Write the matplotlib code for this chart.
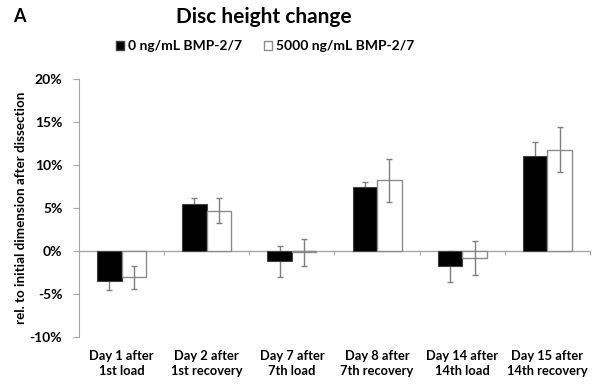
import matplotlib
matplotlib.use("Agg")
import matplotlib.pyplot as plt
from matplotlib.patches import Rectangle
import numpy as np

categories = ["Day 1 after\n1st load", "Day 2 after\n1st recovery", "Day 7 after\n7th load",
              "Day 8 after\n7th recovery", "Day 14 after\n14th load", "Day 15 after\n14th recovery"]
series_names = ["0 ng/mL BMP-2/7", "5000 ng/mL BMP-2/7"]
ctrl_vals = [-3.5, 5.45, -1.2, 7.45, -1.8, 11.05]
ctrl_err = [1.0, 0.75, 1.8, 0.55, 1.8, 1.6]
bmp_vals = [-3.05, 4.7, -0.15, 8.2, -0.8, 11.8]
bmp_err = [1.35, 1.5, 1.55, 2.5, 1.95, 2.6]
yticks = [-10, -5, 0, 5, 10, 15, 20]

plt.rcParams['font.family'] = ['Lato', 'DejaVu Sans']
fig = plt.figure(figsize=(5.92, 3.86), dpi=100)
ax = fig.add_axes([79/592, 1-337/386, (590-79)/592, (337-79)/386])

x = np.arange(len(categories))
w = 0.288
gray = '#a6a6a6'
ax.bar(x - w/2, ctrl_vals, w, color='black', edgecolor='#404040', linewidth=0.8, zorder=2)
ax.bar(x + w/2, bmp_vals, w, color='white', edgecolor='#8c8c8c', linewidth=1.0, zorder=2)
ax.errorbar(x - w/2, ctrl_vals, yerr=ctrl_err, fmt='none', ecolor='#7f7f7f', elinewidth=1, capsize=2, capthick=1, zorder=1.5)
ax.errorbar(x + w/2, bmp_vals, yerr=bmp_err, fmt='none', ecolor='#7f7f7f', elinewidth=1, capsize=2, capthick=1, zorder=3)

ax.set_xlim(-0.5, len(categories) - 0.5)
ax.set_ylim(-10, 20)
ax.set_yticks(yticks)
ax.set_yticklabels([f"{v}%" for v in yticks], fontsize=10, fontweight='bold')
ax.tick_params(axis='y', direction='out', length=4, width=0.8, color=gray, pad=8)

for s in ['top', 'right']:
    ax.spines[s].set_visible(False)
ax.spines['left'].set_color(gray)
ax.spines['left'].set_linewidth(0.8)
ax.spines['bottom'].set_position(('data', 0))
ax.spines['bottom'].set_color(gray)
ax.spines['bottom'].set_linewidth(1.0)
ax.spines['bottom'].set_zorder(1)
ax.set_xticks(x)
ax.set_xticklabels([])
ax.tick_params(axis='x', which='major', length=0)
ax.set_xticks(np.arange(-0.5, len(categories), 1.0), minor=True)
ax.tick_params(axis='x', which='minor', direction='out', length=3, width=0.8, color=gray)

for xi, lab in zip(x, categories):
    ax.text(xi, -11.5, lab, ha='center', va='top', fontsize=9.3,
            fontweight='bold', linespacing=1.35, clip_on=False)

ax.set_ylabel("rel. to initial dimension after dissection", fontsize=9.6, fontweight='bold', labelpad=2)

fig.text(13/592, 1-17/386, "A", fontsize=13, fontweight='bold', ha='left', va='center')
fig.text(264/592, 1-17/386, "Disc height change", fontsize=15, fontweight='bold', ha='center', va='center')

handles = [Rectangle((0, 0), 1, 1, facecolor='black', edgecolor='#404040'),
           Rectangle((0, 0), 1, 1, facecolor='white', edgecolor='#8c8c8c')]
leg = fig.legend(handles, series_names, loc='center', bbox_to_anchor=(265/592, 1-46/386), ncol=2,
                 frameon=False, prop={'size': 10, 'weight': 'bold'}, handlelength=0.6, handleheight=0.6,
                 handletextpad=0.25, columnspacing=1.6)

fig.savefig("out.png", dpi=100)
